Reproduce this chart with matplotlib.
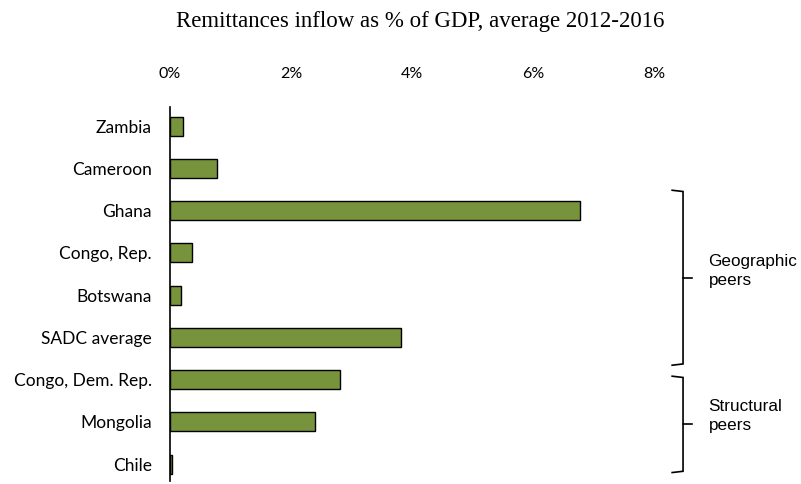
import matplotlib
matplotlib.use("Agg")
import matplotlib.pyplot as plt

categories = ["Zambia", "Cameroon", "Ghana", "Congo, Rep.", "Botswana",
              "SADC average", "Congo, Dem. Rep.", "Mongolia", "Chile"]
values = [0.21, 0.77, 6.78, 0.37, 0.19, 3.81, 2.81, 2.39, 0.03]
xticks = [0, 2, 4, 6, 8]
xtick_labels = ["0%", "2%", "4%", "6%", "8%"]
title = "Remittances inflow as % of GDP, average 2012-2016"
groups = [("Geographic\npeers", 1.52, 5.66, 3.6), ("Structural\npeers", 5.92, 8.2, 7.04)]

fig = plt.figure(figsize=(8.01, 4.84), dpi=100)
ax = fig.add_axes([170/801, 1-481/484, 484/801, 374/484])

y = list(range(len(categories)))
ax.barh(y, values, height=0.45, color="#77933C", edgecolor="black", linewidth=1.0)
ax.set_ylim(8.4, -0.45)
ax.set_xlim(0, 8)
ax.set_yticks(y)
ax.set_yticklabels(categories, fontfamily="Lato", fontsize=12.5)
ax.xaxis.tick_top()
ax.set_xticks(xticks)
ax.set_xticklabels(xtick_labels, fontfamily="Lato", fontsize=11.5)
ax.tick_params(axis="x", length=0, pad=19)
ax.tick_params(axis="y", length=0, pad=13)
for s in ["top", "right", "bottom"]:
    ax.spines[s].set_visible(False)
ax.spines["left"].set_linewidth(1.2)

fig.text(420/801, 1-22/484, title, ha="center", va="center",
         fontfamily="Liberation Serif", fontsize=16.5)

for label, y0, y1, ym in groups:
    ax.plot([8.3, 8.48, 8.48, 8.3], [y0, y0 + 0.03, y1 - 0.03, y1],
            color="black", lw=1.2, clip_on=False, solid_joinstyle="miter")
    ax.plot([8.48, 8.63], [ym, ym], color="black", lw=1.2, clip_on=False)
    ax.text(8.9, ym - 0.17, label, ha="left", va="center",
            fontfamily="Liberation Sans", fontsize=12.3, linespacing=1.35,
            clip_on=False)

fig.savefig("out.png", dpi=100)
